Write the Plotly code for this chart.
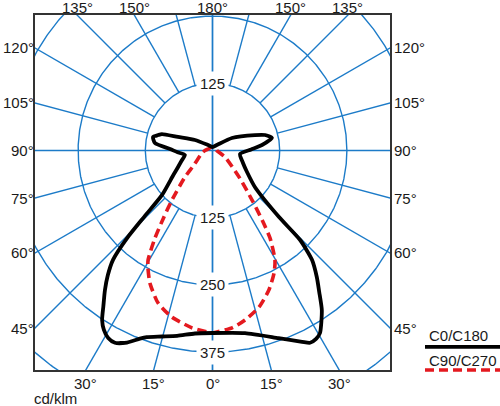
import numpy as np
import plotly.graph_objects as go

# ---------------- data (cd/klm) ----------------
# C0/C180 – black solid. Left half (C180) and right half (C0), gamma measured from nadir
c180_gamma = [0, 5.5, 10.8, 15.2, 19.4, 21.1, 24.0, 26.9, 29.1, 31.2, 33.1, 35, 37.6, 40, 42.3, 44.3,
              45.9, 48.6, 57.9, 64.4, 71.3, 80.7, 87, 92, 97.4, 102.8, 105.9, 108, 111.4, 121, 140.7, 180]
c180_value = [339.5, 342, 351, 358.5, 368, 375, 391, 401, 399, 390, 376, 354, 328, 303, 275, 227,
              176, 125, 86, 71, 61, 52, 65, 79, 108, 113.5, 105, 99, 69, 38, 13, 6.5]

c0_gamma = [0, 10.1, 19.4, 25.1, 26.9, 28.8, 30.5, 34.4, 37, 39.5, 42.3, 44.4, 45, 49.3, 58.1,
            67.7, 82.7, 91.5, 96.3, 101.9, 106.4, 110, 122.7, 140, 180]
c0_value = [339.5, 345, 370, 393, 401, 400, 394, 360, 330, 305, 275, 233, 175, 104, 75.6,
            61.3, 51.6, 72, 92.6, 113, 102, 84, 43, 14, 6.5]

# C90/C270 – red dashed. Left half (C270) and right half (C90)
c270_gamma = [0, 1.4, 6.6, 13.7, 19.7, 25.3, 29, 30.5, 33.3, 36, 39.3, 46.1, 52, 76.6, 90, 115, 150, 180]
c270_value = [339.5, 338, 332, 319, 301, 272.5, 248, 236, 195, 155, 119, 71, 43.7, 20, 14, 7.8, 7, 6.5]

c90_gamma = [0, 6.3, 10.9, 16.5, 22, 26.7, 29.7, 33.3, 35.5, 38.6, 45, 62.5, 90, 120, 150, 180]
c90_value = [339.5, 332, 321, 304, 280, 255, 234.6, 195, 159, 118, 70, 26, 8, 7, 6.5, 6.5]

ring_values = [125, 250, 375, 500]
ring_labels_top = [125]
ring_labels_bottom = [125, 250, 375]
grid_angles = list(range(0, 181, 15))

top_label_angles = [135, 150, 180, 150, 135]
top_label_sides = [-1, -1, 0, 1, 1]
side_label_angles = [120, 105, 90, 75, 60, 45]
bottom_label_angles = [30, 15, 0, 15, 30]
bottom_label_sides = [-1, -1, 0, 1, 1]

series_names = ["C0/C180", "C90/C270"]
unit_label = "cd/klm"

# ---------------- layout constants ----------------
X_MAX = 330.2
Y_MIN, Y_MAX = -408.3, 252.0
BLUE = "#1c7bc8"
RED = "#e4191f"
FRAME = "#333333"
TEXT = "#1a1a1a"
FONT = "Liberation Sans, Arial, sans-serif"
FS = 15


def xy(gamma, r, side):
    g = np.radians(np.asarray(gamma, dtype=float))
    r = np.asarray(r, dtype=float)
    return side * r * np.sin(g), -r * np.cos(g)


fig = go.Figure()

# rings
for rv in ring_values:
    t = np.linspace(0, 2 * np.pi, 721)
    fig.add_trace(go.Scatter(x=rv * np.cos(t), y=rv * np.sin(t), mode="lines",
                             line=dict(color=BLUE, width=1.4), hoverinfo="skip", showlegend=False))

# radial lines
for a in grid_angles:
    for side in (-1, 1):
        r0 = 0 if a in (0, 90, 180) else ring_values[0]
        xs, ys = xy([a, a], [r0, 1200], side)
        fig.add_trace(go.Scatter(x=xs, y=ys, mode="lines",
                                 line=dict(color=BLUE, width=1.4), hoverinfo="skip", showlegend=False))


def curve(gl, vl, gr, vr):
    xl, yl = xy(gl, vl, -1)
    xr, yr = xy(gr, vr, 1)
    return np.concatenate([xl[::-1], xr]), np.concatenate([yl[::-1], yr])


xb, yb = curve(c180_gamma, c180_value, c0_gamma, c0_value)
xrd, yrd = curve(c270_gamma, c270_value, c90_gamma, c90_value)

fig.add_trace(go.Scatter(x=xrd, y=yrd, mode="lines", name=series_names[1],
                         line=dict(color=RED, width=3.6, dash="9px,5px", shape="spline", smoothing=0.6),
                         showlegend=False))
fig.add_trace(go.Scatter(x=xb, y=yb, mode="lines", name=series_names[0],
                         line=dict(color="#000000", width=3.8, shape="spline", smoothing=0.6),
                         showlegend=False))

annotations = []
# ring labels
for rv in ring_labels_top:
    annotations.append(dict(x=0, y=rv, xref="x", yref="y", text=str(rv), showarrow=False,
                            bgcolor="white", borderpad=3, font=dict(size=FS, color=TEXT, family=FONT)))
for rv in ring_labels_bottom:
    annotations.append(dict(x=0, y=-rv, xref="x", yref="y", text=str(rv), showarrow=False,
                            bgcolor="white", borderpad=3, font=dict(size=FS, color=TEXT, family=FONT)))

xspan = 2 * X_MAX
yspan = Y_MAX - Y_MIN


def px(x):
    return (x + X_MAX) / xspan


def py(y):
    return (y - Y_MIN) / yspan


# top edge labels
for a, s in zip(top_label_angles, top_label_sides):
    x = Y_MAX * np.tan(np.radians(180 - a)) * s
    annotations.append(dict(x=px(x), y=1, xref="paper", yref="paper", text=f"{a}°",
                            showarrow=False, xanchor="center", yanchor="bottom", yshift=-2,
                            borderpad=0,
                            font=dict(size=FS, color=TEXT, family=FONT)))
# side labels
for a in side_label_angles:
    y = -X_MAX * np.cos(np.radians(a)) / np.sin(np.radians(a))
    for s in (-1, 1):
        annotations.append(dict(x=0 if s < 0 else 1, y=py(y), xref="paper", yref="paper",
                                text=f"{a}°", showarrow=False,
                                xanchor="right" if s < 0 else "left", yanchor="middle",
                                xshift=0 if s < 0 else 3, borderpad=0,
                                font=dict(size=FS, color=TEXT, family=FONT)))
# bottom labels
for a, s in zip(bottom_label_angles, bottom_label_sides):
    x = -Y_MIN * np.tan(np.radians(a)) * s
    annotations.append(dict(x=px(x), y=0, xref="paper", yref="paper", text=f"{a}°",
                            showarrow=False, xanchor="center", yanchor="top", yshift=-3,
                            font=dict(size=FS, color=TEXT, family=FONT)))

annotations.append(dict(x=0, y=0, xref="paper", yref="paper", text=unit_label, showarrow=False,
                        xanchor="left", yanchor="top", xshift=-2, yshift=-19, borderpad=0,
                        font=dict(size=FS, color=TEXT, family=FONT)))

# legend (text above line sample)
annotations.append(dict(x=1.104, y=0.096, xref="paper", yref="paper", text=series_names[0],
                        showarrow=False, xanchor="left", yanchor="middle",
                        font=dict(size=FS, color=TEXT, family=FONT)))
annotations.append(dict(x=1.104, y=0.026, xref="paper", yref="paper", text=series_names[1],
                        showarrow=False, xanchor="left", yanchor="middle",
                        font=dict(size=FS, color=TEXT, family=FONT)))

shapes = [
    dict(type="line", xref="paper", yref="paper", x0=1.0986, x1=1.31, y0=0.065, y1=0.065,
         line=dict(color="#000000", width=3.8)),
    dict(type="line", xref="paper", yref="paper", x0=1.0986, x1=1.31, y0=0.0, y1=0.0,
         line=dict(color=RED, width=3.6, dash="9px,5px")),
]

fig.update_layout(
    width=500, height=406,
    margin=dict(l=35, r=110, t=15, b=36, pad=0),
    paper_bgcolor="white", plot_bgcolor="white",
    showlegend=False,
    annotations=annotations,
    shapes=shapes,
    xaxis=dict(range=[-X_MAX, X_MAX], showgrid=False, zeroline=False, showticklabels=False,
               ticks="", showline=True, mirror=True, linecolor=FRAME, linewidth=2, fixedrange=True),
    yaxis=dict(range=[Y_MIN, Y_MAX], showgrid=False, zeroline=False, showticklabels=False,
               ticks="", showline=True, mirror=True, linecolor=FRAME, linewidth=2, fixedrange=True),
)

fig.write_html("out.html", config={"displayModeBar": False},
               post_script="document.body.style.margin='0';document.body.style.overflow='hidden';")
